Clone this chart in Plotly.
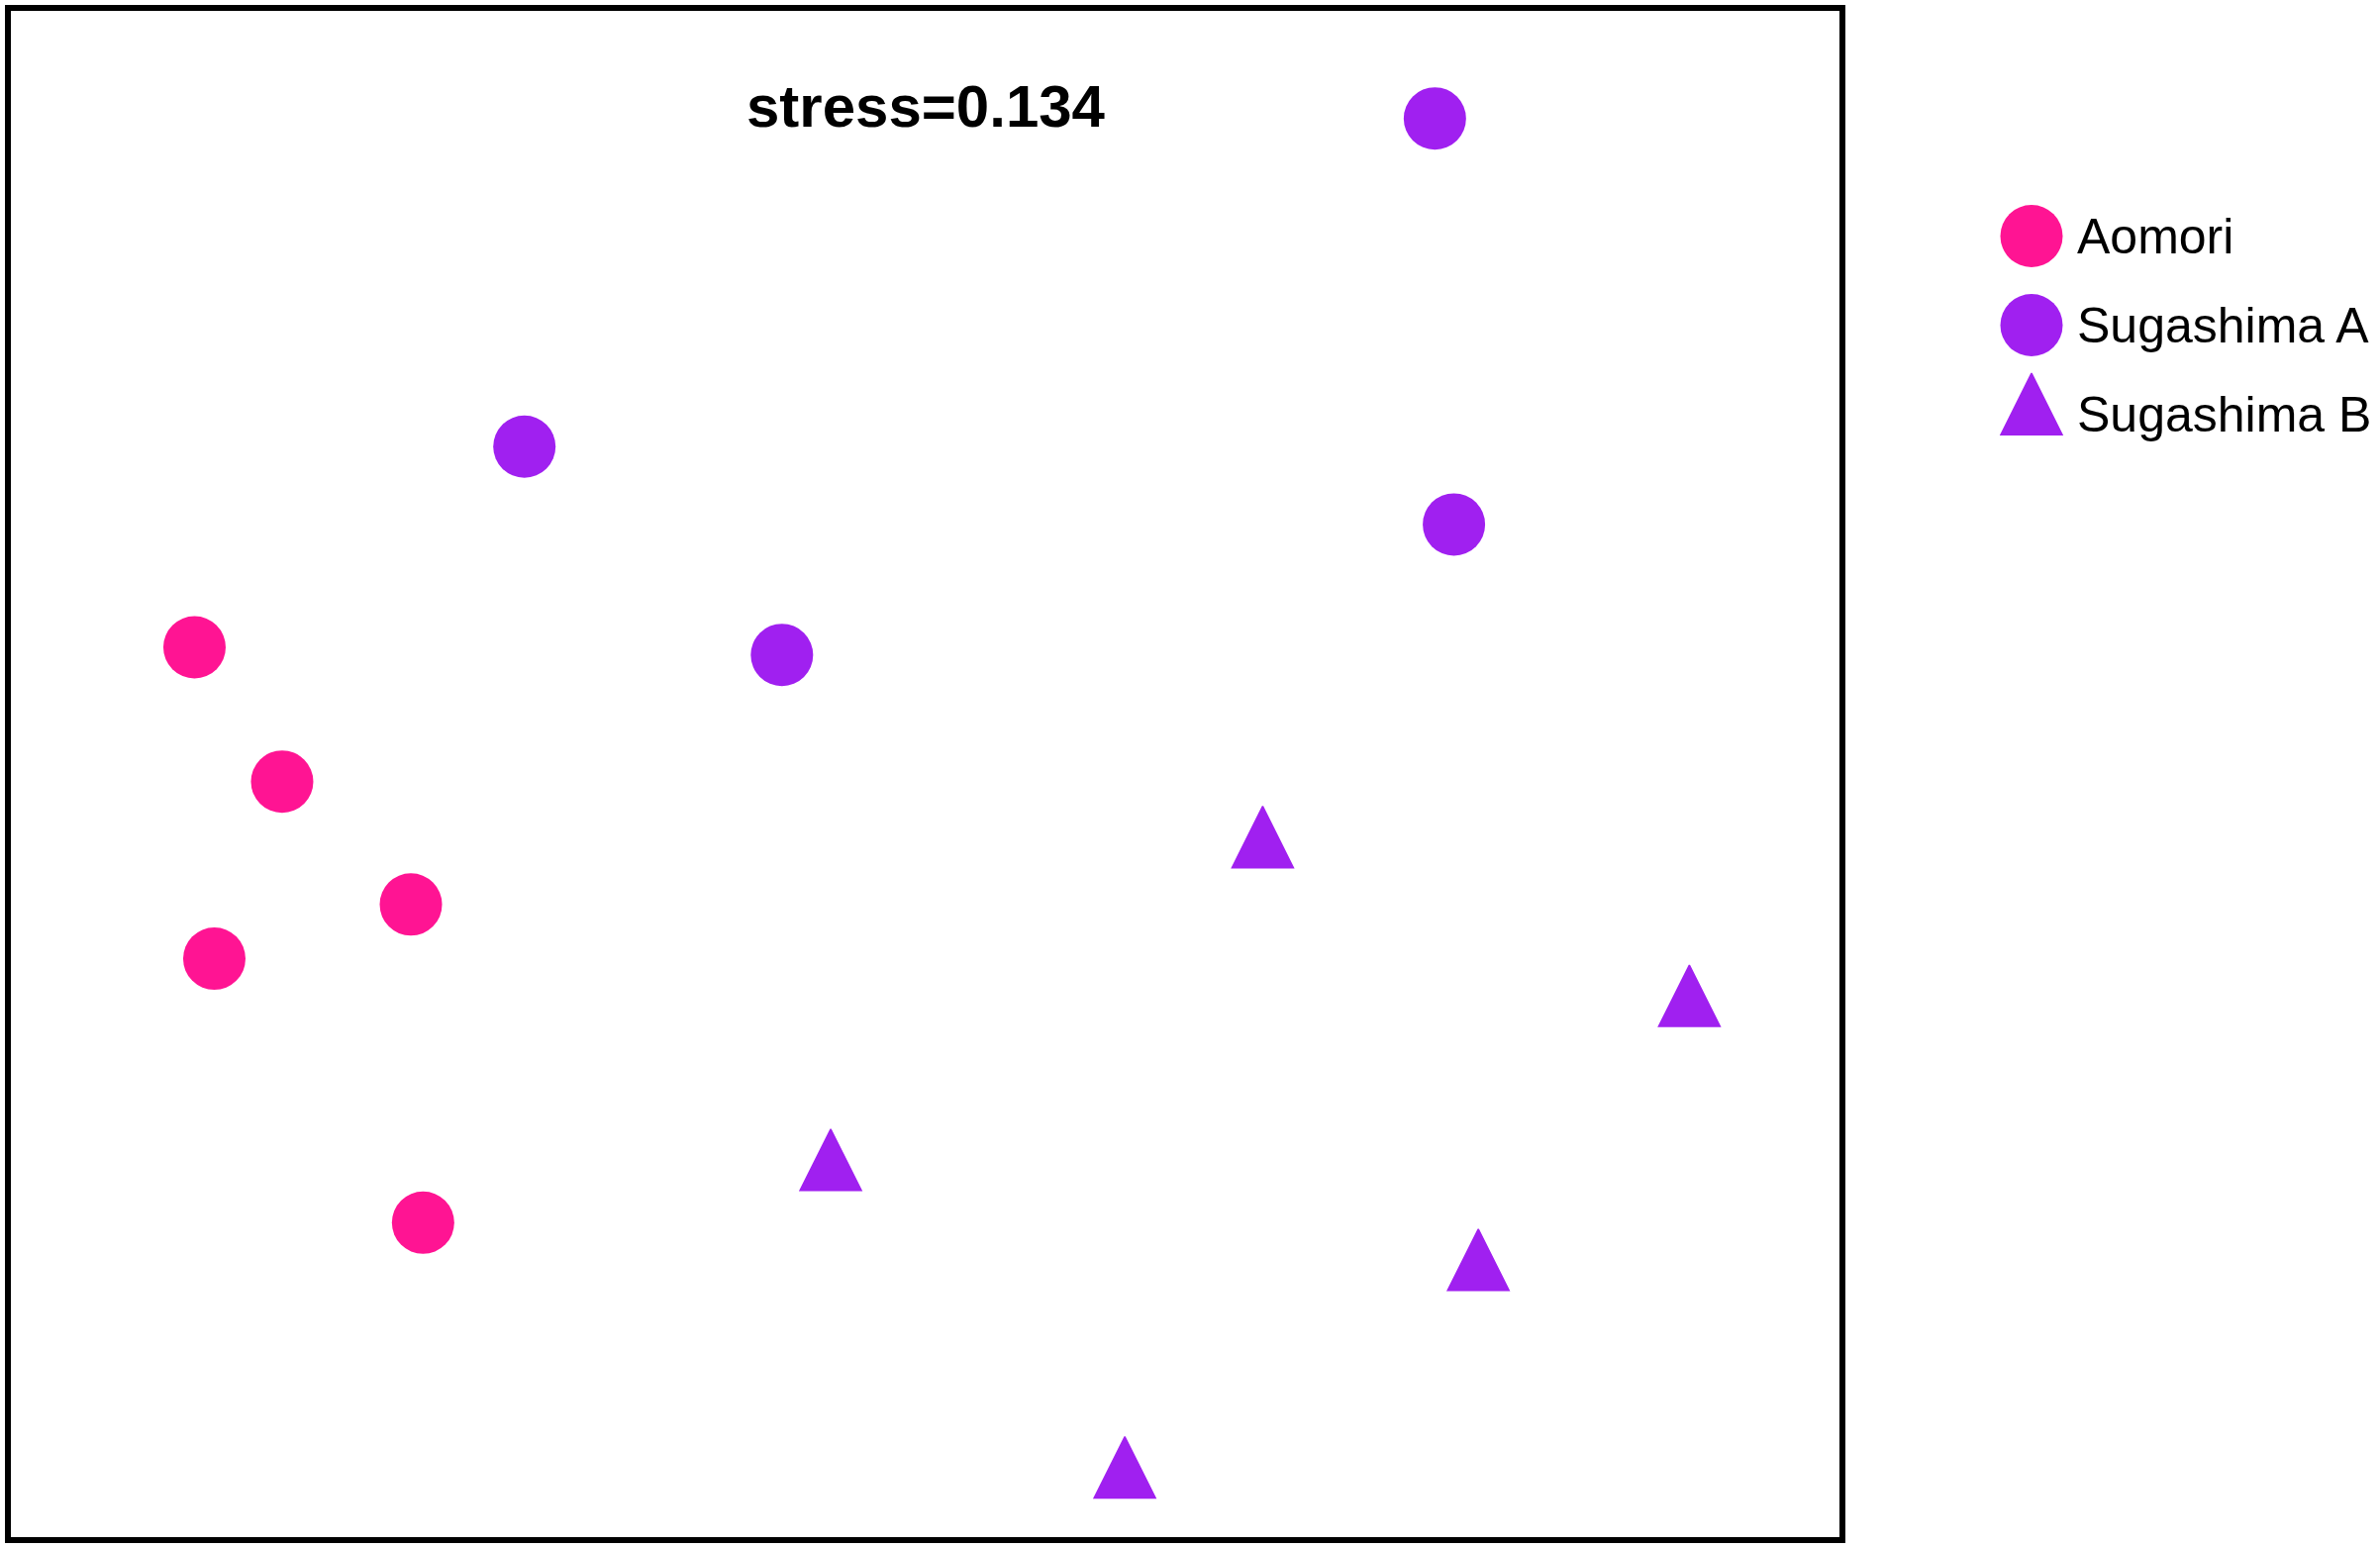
import plotly.graph_objects as go

# ---------------- data (NMDS ordination scores) ----------------
groups = ["Aomori", "Sugashima A", "Sugashima B"]

aomori_nmds1 = [-0.959, -0.844, -0.675, -0.933, -0.659]
aomori_nmds2 = [0.166, -0.010, -0.171, -0.242, -0.588]

sugA_nmds1 = [0.669, -0.526, 0.694, -0.188]
sugA_nmds2 = [0.859, 0.429, 0.327, 0.156]

sugB_nmds1 = [0.443, 1.003, -0.124, 0.726, 0.262]
sugB_nmds2 = [-0.096, -0.304, -0.519, -0.650, -0.922]

stress_label = "stress=0.134"

# ---------------- style ----------------
W, H = 2404, 1564
PL, PR, PT, PB = 11, 1858, 11, 1553          # inner plot box in px
PINK = "#FF1493"
PURPLE = "#A020F0"
FONT = "Liberation Sans, Arial, Helvetica, sans-serif"
CIRC = 63
TRI = 62

series = [
    (groups[0], aomori_nmds1, aomori_nmds2, PINK, "circle"),
    (groups[1], sugA_nmds1, sugA_nmds2, PURPLE, "circle"),
    (groups[2], sugB_nmds1, sugB_nmds2, PURPLE, "triangle"),
]


def marker_for(color, shape):
    if shape == "circle":
        return dict(color=color, size=CIRC, symbol="circle", line=dict(width=0))
    # upward triangle centred on the point
    return dict(color=color, size=TRI, symbol="arrow-down", angle=180,
                standoff=TRI * 2 / 3, line=dict(width=1.5, color=color))


fig = go.Figure()
for name, xs, ys, color, shape in series:
    fig.add_trace(go.Scatter(x=xs, y=ys, mode="markers", name=name,
                             marker=marker_for(color, shape),
                             showlegend=False, hoverinfo="x+y+name",
                             xaxis="x", yaxis="y"))

# legend drawn on its own small axes
LEG_X, LEG_Y0, LEG_DY = 2052, 238.5, 90
for i, (name, xs, ys, color, shape) in enumerate(series):
    fig.add_trace(go.Scatter(x=[0], y=[i], mode="markers", name=name,
                             marker=marker_for(color, shape),
                             showlegend=False, hoverinfo="name",
                             xaxis="x2", yaxis="y2"))
    fig.add_annotation(x=0, y=i, xref="x2", yref="y2", text=name,
                       showarrow=False, xanchor="left", yanchor="middle",
                       xshift=44, font=dict(family=FONT, size=50, color="black"))

fig.add_annotation(x=935 / W, y=1 - 108 / H, xref="paper", yref="paper",
                   text="<b>" + stress_label + "</b>", showarrow=False,
                   xanchor="center", yanchor="middle",
                   font=dict(family=FONT, size=60, color="black"))

axis_common = dict(showgrid=False, zeroline=False, showticklabels=False,
                   ticks="", showline=True, linewidth=6, linecolor="black",
                   mirror=True, fixedrange=True)

fig.update_layout(
    width=W, height=H, autosize=False,
    margin=dict(l=0, r=0, t=0, b=0, pad=0),
    paper_bgcolor="white", plot_bgcolor="white",
    showlegend=False,
    xaxis=dict(domain=[PL / W, PR / W], range=[-1.2, 1.2], **axis_common),
    yaxis=dict(domain=[1 - PB / H, 1 - PT / H], range=[-1.0, 1.0], **axis_common),
    xaxis2=dict(domain=[(LEG_X - 100) / W, (LEG_X + 100) / W], range=[-100, 100],
                visible=False, anchor="y2", fixedrange=True),
    yaxis2=dict(domain=[0, 1], range=[(H - LEG_Y0) / LEG_DY, -LEG_Y0 / LEG_DY],
                visible=False, anchor="x2", fixedrange=True),
)

fig.write_html(
    "out.html",
    config={"displayModeBar": False},
    post_script="document.body.style.margin='0';document.body.style.padding='0';"
                "document.body.style.overflow='hidden';",
)
